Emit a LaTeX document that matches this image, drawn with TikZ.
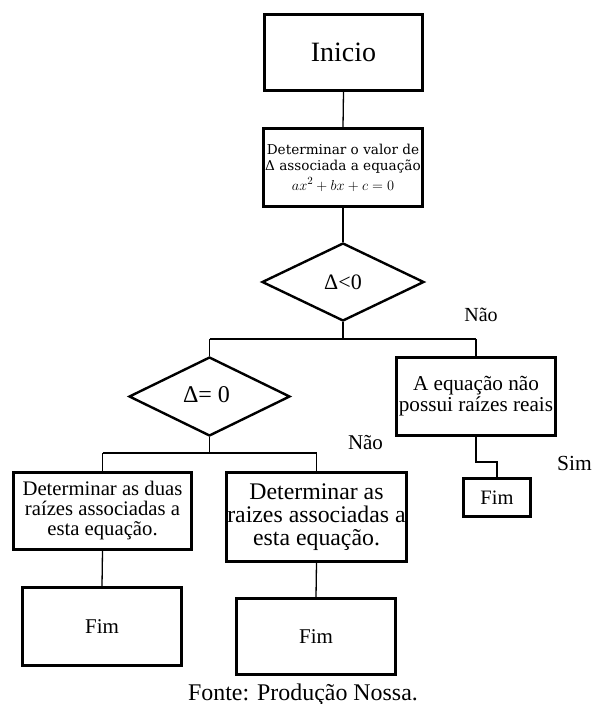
\documentclass[tikz,border=0pt]{standalone}
\usepackage{fontspec}
\setmainfont{Liberation Serif}
\newfontfamily\cambriafont{DejaVu Serif}
\usetikzlibrary{shapes.geometric}
\begin{document}
\begin{tikzpicture}[x=1pt,y=-1pt,
  box/.style={draw,line width=2.6pt,rectangle,inner sep=0pt,align=center},
  dec/.style={draw,line width=2.4pt,diamond,inner sep=0pt,align=center},
  conn/.style={line width=1.3pt},
  lbl/.style={anchor=base,inner sep=0pt},
  fs/.style={font=\fontsize{#1}{#1}\selectfont}]
\useasboundingbox (0,0) rectangle (592,704);

\node[box,minimum width=158pt,minimum height=76pt,font=\fontsize{28}{30}\selectfont] (inicio) at (343.5,52.5) {Inicio};
\node[box,minimum width=159pt,minimum height=78pt,font=\cambriafont\fontsize{13.6}{16.5}\selectfont] (calc) at (343,167.5)
  {Determinar o valor de\\ Δ associada a equação\\[3pt] \fontsize{15.5}{16}\selectfont$ax^2+bx+c=0$};
\node[dec,minimum width=162pt,minimum height=78pt,font=\fontsize{22}{22}\selectfont] (d1) at (343,282) {\raisebox{-1pt}{Δ<0}};
\node[dec,minimum width=161pt,minimum height=79pt,font=\fontsize{24}{24}\selectfont] (d2) at (209.5,396.5) {\raisebox{3pt}{Δ= 0}\hspace{6pt}};
\node[box,minimum width=159pt,minimum height=78pt,font=\fontsize{21.2}{21}\selectfont] (boxA) at (476,396.5) {A equação não\\ possui raízes reais};
\node[box,minimum width=67pt,minimum height=38pt,font=\fontsize{20.5}{20}\selectfont] (fimS) at (497,497.5) {Fim};
\node[box,minimum width=178pt,minimum height=77pt,font=\fontsize{20.7}{20}\selectfont] (boxL) at (102.5,511) {Determinar as duas\\ raízes associadas a\\ esta equação.};
\node[box,minimum width=180pt,minimum height=89pt,font=\fontsize{23.8}{23}\selectfont] (boxM) at (316.5,517) {Determinar as\\ raizes associadas a\\ esta equação.};
\node[box,minimum width=159pt,minimum height=78pt,font=\fontsize{21}{21}\selectfont] (fimL) at (102,626.5) {Fim};
\node[box,minimum width=159pt,minimum height=76pt,font=\fontsize{21}{21}\selectfont] (fimM) at (316,636.5) {Fim};

\coordinate (j1) at (343,339);
\coordinate (j1l) at (209.5,339);
\coordinate (j1r) at (476,339);
\coordinate (j2) at (209.5,453);
\coordinate (j2l) at (102.5,453);
\coordinate (j2r) at (316.5,453);
\coordinate (j3) at (476,462);

\draw[conn] (inicio.south) -- (calc.north);
\draw[conn] (calc.south) -- (d1.north);
\draw[conn] (d1.south) -- (j1);
\draw[conn] (j1l) -- (j1r);
\draw[conn] (j1l) -- (d2.north);
\draw[conn] (j1r) -- (boxA.north);
\draw[conn] (d2.south) -- (j2);
\draw[conn] (j2l) -- (j2r);
\draw[conn] (j2l) -- (boxL.north);
\draw[conn] (j2r) -- (boxM.north);
\draw[conn] (boxA.south) -- (j3) -| (fimS.north);
\draw[conn] (boxL.south) -- (fimL.north);
\draw[conn] (boxM.south) -- (fimM.north);

\node[lbl,fs=20] (nao1) at (481,321) {Não};
\node[lbl,fs=21] (nao2) at (365.5,449) {Não};
\node[lbl,fs=21.5] (sim) at (574.5,470) {Sim};
\node[lbl,fs=23.9] (fonte) at (303,700) {Fonte: Produção Nossa.};
\end{tikzpicture}
\end{document}
